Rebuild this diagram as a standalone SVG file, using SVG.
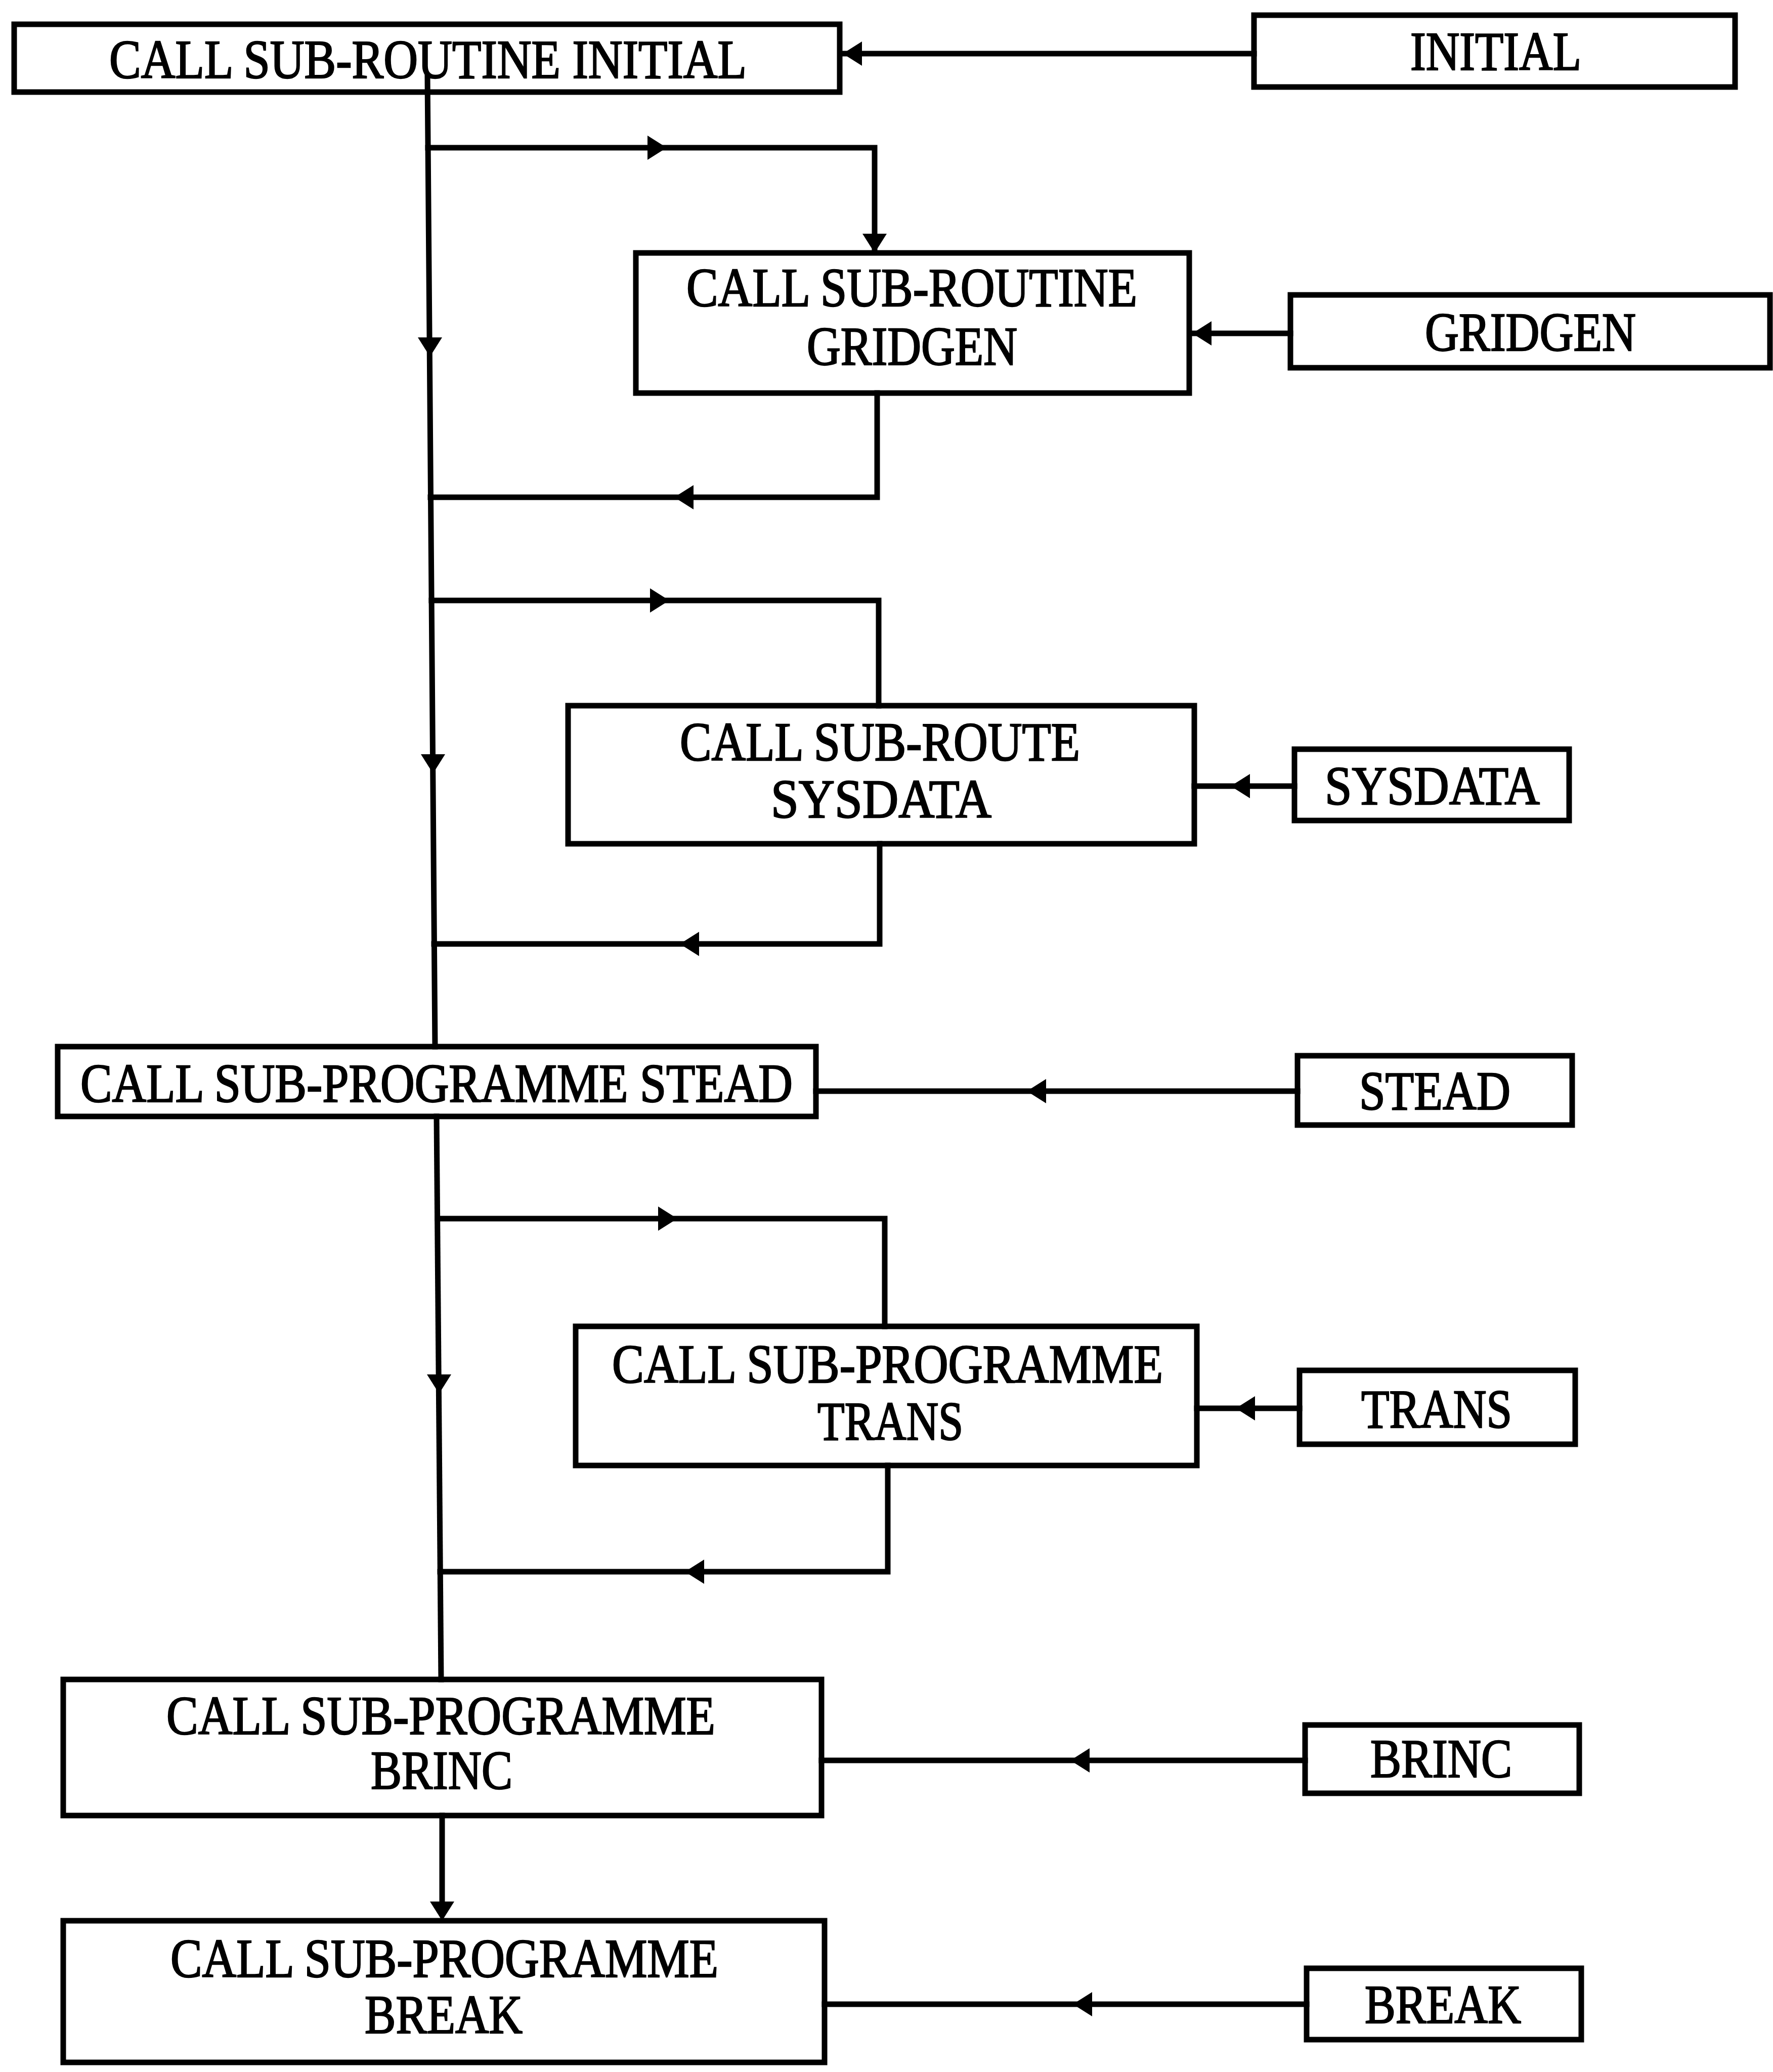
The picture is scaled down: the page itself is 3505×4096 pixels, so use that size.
<svg xmlns="http://www.w3.org/2000/svg" xmlns:xlink="http://www.w3.org/1999/xlink" width="3505" height="4096" viewBox="0 0 3505 4096">
<style>
.box{fill:none;stroke:#000;stroke-width:11}
.ln{fill:none;stroke:#000;stroke-width:11;stroke-linejoin:miter;stroke-linecap:square}
.ah{fill:#000;stroke:none}
text{font-family:"Liberation Serif","Times New Roman",serif;font-size:108px;fill:#000;stroke:#000;stroke-width:2.5}
</style>
<defs>
<path id="ar" d="M0,0 L-38,-24 L-38,24 Z"/>
</defs>
<rect width="3505" height="4096" fill="#fff"/>
<g id="connectors">
<line class="ln" x1="845" y1="152" x2="860" y2="2069"/>
<line class="ln" x1="863" y1="2207" x2="872" y2="3320"/>
<line class="ln" x1="874" y1="3589" x2="874" y2="3780"/>
<polyline class="ln" points="846,292 1729,292 1729,490"/>
<polyline class="ln" points="1734,777 1734,983 851,983"/>
<polyline class="ln" points="853,1187 1737,1187 1737,1395"/>
<polyline class="ln" points="1739,1668 1739,1866 858,1866"/>
<polyline class="ln" points="865,2409 1749,2409 1749,2622"/>
<polyline class="ln" points="1755,2897 1755,3107 870,3107"/>
<line class="ln" x1="2479" y1="106" x2="1670" y2="106"/>
<line class="ln" x1="2551" y1="659" x2="2360" y2="659"/>
<line class="ln" x1="2559" y1="1554" x2="2361" y2="1554"/>
<line class="ln" x1="2565" y1="2157" x2="1613" y2="2157"/>
<line class="ln" x1="2569" y1="2784" x2="2366" y2="2784"/>
<line class="ln" x1="2580" y1="3480" x2="1624" y2="3480"/>
<line class="ln" x1="2583" y1="3962" x2="1630" y2="3962"/>
<use xlink:href="#ar" class="ah" transform="translate(1318,292)"/>
<use xlink:href="#ar" class="ah" transform="translate(1729,500) rotate(90)"/>
<use xlink:href="#ar" class="ah" transform="translate(1333,983) rotate(180)"/>
<use xlink:href="#ar" class="ah" transform="translate(1323,1187)"/>
<use xlink:href="#ar" class="ah" transform="translate(1344,1866) rotate(180)"/>
<use xlink:href="#ar" class="ah" transform="translate(1339,2409)"/>
<use xlink:href="#ar" class="ah" transform="translate(1354,3107) rotate(180)"/>
<use xlink:href="#ar" class="ah" transform="translate(850,705) rotate(90)"/>
<use xlink:href="#ar" class="ah" transform="translate(856,1529) rotate(90)"/>
<use xlink:href="#ar" class="ah" transform="translate(868,2755) rotate(90)"/>
<use xlink:href="#ar" class="ah" transform="translate(874,3797) rotate(90)"/>
<use xlink:href="#ar" class="ah" transform="translate(1666,106) rotate(180)"/>
<use xlink:href="#ar" class="ah" transform="translate(2357,659) rotate(180)"/>
<use xlink:href="#ar" class="ah" transform="translate(2433,1554) rotate(180)"/>
<use xlink:href="#ar" class="ah" transform="translate(2030,2157) rotate(180)"/>
<use xlink:href="#ar" class="ah" transform="translate(2443,2784) rotate(180)"/>
<use xlink:href="#ar" class="ah" transform="translate(2116,3480) rotate(180)"/>
<use xlink:href="#ar" class="ah" transform="translate(2121,3962) rotate(180)"/>
</g>
<g id="call_initial">
<rect class="box" x="28" y="48" width="1632" height="134"/>
<text x="216" y="154" textLength="1260" lengthAdjust="spacingAndGlyphs">CALL SUB-ROUTINE INITIAL</text>
</g>
<g id="initial">
<rect class="box" x="2479" y="30" width="951" height="142"/>
<text x="2788" y="138" textLength="338" lengthAdjust="spacingAndGlyphs">INITIAL</text>
</g>
<g id="call_gridgen">
<rect class="box" x="1257" y="500" width="1094" height="277"/>
<text x="1357" y="605" textLength="891" lengthAdjust="spacingAndGlyphs">CALL SUB-ROUTINE</text>
<text x="1595" y="721" textLength="416" lengthAdjust="spacingAndGlyphs">GRIDGEN</text>
</g>
<g id="gridgen">
<rect class="box" x="2551" y="583" width="948" height="144"/>
<text x="2817" y="693" textLength="417" lengthAdjust="spacingAndGlyphs">GRIDGEN</text>
</g>
<g id="call_sysdata">
<rect class="box" x="1123" y="1395" width="1238" height="273"/>
<text x="1344" y="1503" textLength="791" lengthAdjust="spacingAndGlyphs">CALL SUB-ROUTE</text>
<text x="1524" y="1616" textLength="436" lengthAdjust="spacingAndGlyphs">SYSDATA</text>
</g>
<g id="sysdata">
<rect class="box" x="2559" y="1481" width="543" height="141"/>
<text x="2619" y="1590" textLength="425" lengthAdjust="spacingAndGlyphs">SYSDATA</text>
</g>
<g id="call_stead">
<rect class="box" x="114" y="2069" width="1499" height="138"/>
<text x="159" y="2178" textLength="1408" lengthAdjust="spacingAndGlyphs">CALL SUB-PROGRAMME STEAD</text>
</g>
<g id="stead">
<rect class="box" x="2565" y="2087" width="543" height="137"/>
<text x="2687" y="2193" textLength="299" lengthAdjust="spacingAndGlyphs">STEAD</text>
</g>
<g id="call_trans">
<rect class="box" x="1138" y="2622" width="1228" height="275"/>
<text x="1210" y="2733" textLength="1089" lengthAdjust="spacingAndGlyphs">CALL SUB-PROGRAMME</text>
<text x="1616" y="2846" textLength="288" lengthAdjust="spacingAndGlyphs">TRANS</text>
</g>
<g id="trans">
<rect class="box" x="2569" y="2709" width="545" height="146"/>
<text x="2691" y="2822" textLength="298" lengthAdjust="spacingAndGlyphs">TRANS</text>
</g>
<g id="call_brinc">
<rect class="box" x="125" y="3320" width="1499" height="269"/>
<text x="329" y="3428" textLength="1085" lengthAdjust="spacingAndGlyphs">CALL SUB-PROGRAMME</text>
<text x="733" y="3536" textLength="280" lengthAdjust="spacingAndGlyphs">BRINC</text>
</g>
<g id="brinc">
<rect class="box" x="2580" y="3410" width="542" height="135"/>
<text x="2709" y="3513" textLength="280" lengthAdjust="spacingAndGlyphs">BRINC</text>
</g>
<g id="call_break">
<rect class="box" x="125" y="3797" width="1505" height="280"/>
<text x="337" y="3908" textLength="1083" lengthAdjust="spacingAndGlyphs">CALL SUB-PROGRAMME</text>
<text x="721" y="4019" textLength="312" lengthAdjust="spacingAndGlyphs">BREAK</text>
</g>
<g id="break">
<rect class="box" x="2583" y="3891" width="543" height="141"/>
<text x="2698" y="3999" textLength="309" lengthAdjust="spacingAndGlyphs">BREAK</text>
</g>
</svg>
